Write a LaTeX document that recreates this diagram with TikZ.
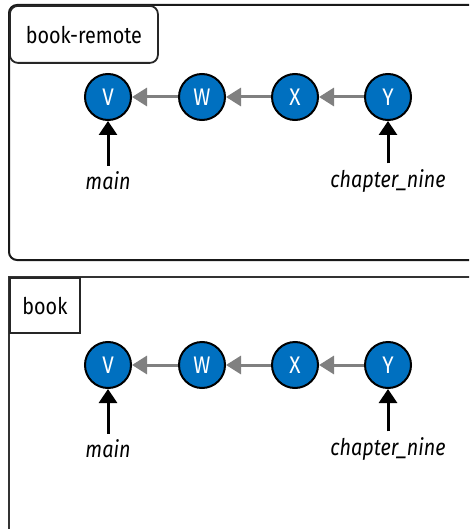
\documentclass[tikz,border=0pt]{standalone}
\usepackage{fontspec}
\setmainfont{Fira Sans}[FakeStretch=0.86]
\usetikzlibrary{arrows.meta}
\definecolor{nodeblue}{RGB}{0,112,192}
\definecolor{linkgray}{RGB}{128,128,128}
\tikzset{
  commit/.style={circle, draw=black, line width=2pt, fill=nodeblue, minimum size=46pt, inner sep=0pt, text=white, font=\fontsize{24}{24}\selectfont},
  parentlink/.style={draw=linkgray, line width=3pt, -{Triangle[length=15pt,width=18pt]}},
  reflink/.style={draw=black, line width=3pt, -{Triangle[length=14pt,width=18pt]}},
  refname/.style={font=\fontsize{23}{23}\selectfont\itshape, inner sep=0pt},
  frame/.style={draw=black!90, line width=2pt},
  tag/.style={draw=black!85, line width=1.8pt, anchor=north west, font=\fontsize{23}{23}\selectfont, inner sep=0pt, text depth=0pt}
}
\begin{document}
\begin{tikzpicture}[x=1pt,y=-1pt]
\useasboundingbox (0,0) rectangle (469,529);
\clip (0,0) rectangle (469,529);
% top frame
\draw[frame, rounded corners=8pt] (9,5) rectangle (490,260);
\node[tag, rounded corners=8pt, minimum width=148pt, minimum height=57pt] (tagtop) at (9,5) {book-remote};
% bottom frame
\draw[frame, draw=black!80] (9,277) rectangle (490,560);
\node[tag, minimum width=70pt, minimum height=55pt] (tagbot) at (9,277) {book};
% commits
\foreach \n/\x in {V/108,W/202,X/295,Y/388}{
  \node[commit] (t\n) at (\x,97) {\n};
  \node[commit] (b\n) at (\x,365) {\n};
}
\foreach \a/\b in {W/V,X/W,Y/X}{
  \draw[parentlink] (t\a) -- (t\b);
  \draw[parentlink] (b\a) -- (b\b);
}
\node[refname] (tmain) at (108,181) {main};
\node[refname] (tch) at (388,181) {chapter\_nine};
\node[refname] (bmain) at (108,449) {main};
\node[refname] (bch) at (388,449) {chapter\_nine};
\draw[reflink] (tmain.north) ++(0,-6) -- (tV.south);
\draw[reflink] (tch.north) ++(0,-6) -- (tY.south);
\draw[reflink] (bmain.north) ++(0,-6) -- (bV.south);
\draw[reflink] (bch.north) ++(0,-6) -- (bY.south);
\end{tikzpicture}
\end{document}
